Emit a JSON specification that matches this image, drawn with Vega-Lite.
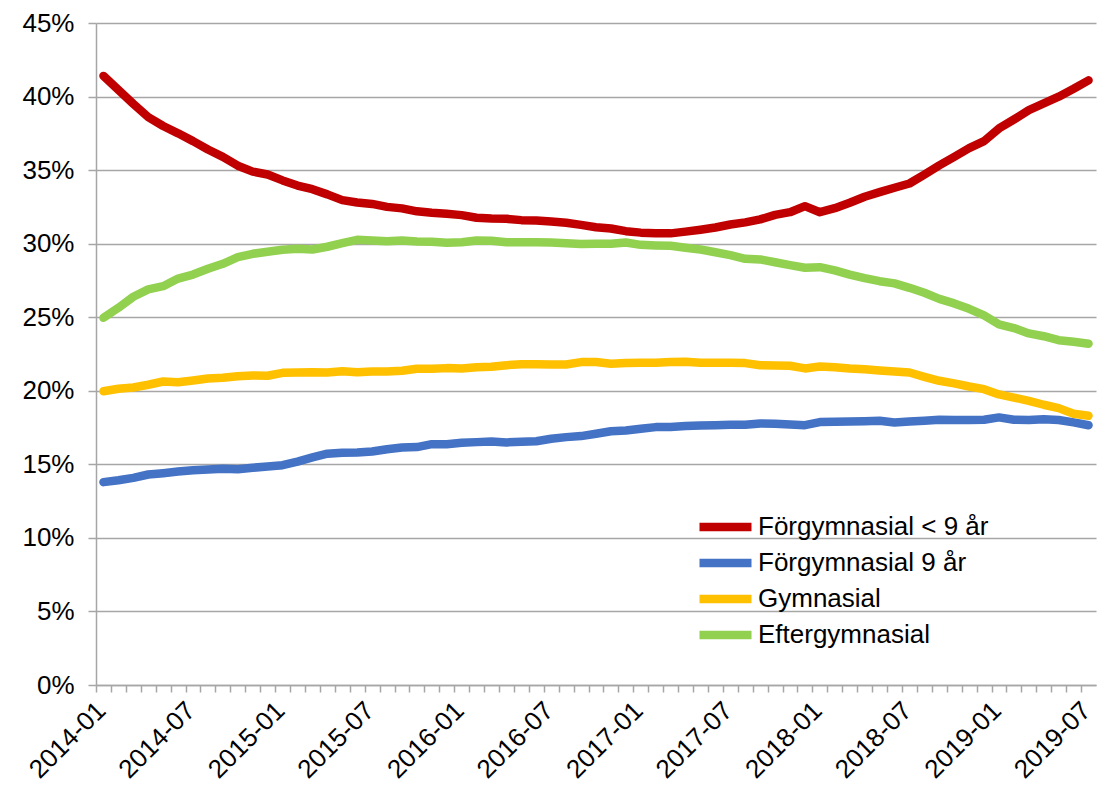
{
  "$schema": "https://vega.github.io/schema/vega-lite/v6.json",
  "width": 1000,
  "height": 662,
  "autosize": {"type": "none"},
  "padding": {"left": 96, "top": 23, "right": 1, "bottom": 102},
  "background": "white",
  "config": {
    "font": "Liberation Sans",
    "view": {"stroke": null},
    "axis": {
      "labelFont": "Liberation Sans",
      "labelFontSize": 26,
      "labelColor": "#000000",
      "domainColor": "#A6A6A6",
      "domainWidth": 1.5,
      "tickColor": "#A6A6A6",
      "tickWidth": 1.5,
      "gridColor": "#A6A6A6",
      "gridWidth": 1.5,
      "title": null
    }
  },
  "data": {"values": [
{"m":"2014-01","s":"Förgymnasial < 9 år","v":41.4},{"m":"2014-02","s":"Förgymnasial < 9 år","v":40.45},{"m":"2014-03","s":"Förgymnasial < 9 år","v":39.5},{"m":"2014-04","s":"Förgymnasial < 9 år","v":38.6},{"m":"2014-05","s":"Förgymnasial < 9 år","v":38.0},{"m":"2014-06","s":"Förgymnasial < 9 år","v":37.5},{"m":"2014-07","s":"Förgymnasial < 9 år","v":36.97},{"m":"2014-08","s":"Förgymnasial < 9 år","v":36.4},{"m":"2014-09","s":"Förgymnasial < 9 år","v":35.9},{"m":"2014-10","s":"Förgymnasial < 9 år","v":35.3},{"m":"2014-11","s":"Förgymnasial < 9 år","v":34.9},{"m":"2014-12","s":"Förgymnasial < 9 år","v":34.7},
{"m":"2015-01","s":"Förgymnasial < 9 år","v":34.3},{"m":"2015-02","s":"Förgymnasial < 9 år","v":33.95},{"m":"2015-03","s":"Förgymnasial < 9 år","v":33.7},{"m":"2015-04","s":"Förgymnasial < 9 år","v":33.35},{"m":"2015-05","s":"Förgymnasial < 9 år","v":32.96},{"m":"2015-06","s":"Förgymnasial < 9 år","v":32.8},{"m":"2015-07","s":"Förgymnasial < 9 år","v":32.7},{"m":"2015-08","s":"Förgymnasial < 9 år","v":32.5},{"m":"2015-09","s":"Förgymnasial < 9 år","v":32.4},{"m":"2015-10","s":"Förgymnasial < 9 år","v":32.2},{"m":"2015-11","s":"Förgymnasial < 9 år","v":32.1},{"m":"2015-12","s":"Förgymnasial < 9 år","v":32.03},
{"m":"2016-01","s":"Förgymnasial < 9 år","v":31.94},{"m":"2016-02","s":"Förgymnasial < 9 år","v":31.76},{"m":"2016-03","s":"Förgymnasial < 9 år","v":31.71},{"m":"2016-04","s":"Förgymnasial < 9 år","v":31.69},{"m":"2016-05","s":"Förgymnasial < 9 år","v":31.6},{"m":"2016-06","s":"Förgymnasial < 9 år","v":31.58},{"m":"2016-07","s":"Förgymnasial < 9 år","v":31.5},{"m":"2016-08","s":"Förgymnasial < 9 år","v":31.42},{"m":"2016-09","s":"Förgymnasial < 9 år","v":31.28},{"m":"2016-10","s":"Förgymnasial < 9 år","v":31.12},{"m":"2016-11","s":"Förgymnasial < 9 år","v":31.03},{"m":"2016-12","s":"Förgymnasial < 9 år","v":30.85},
{"m":"2017-01","s":"Förgymnasial < 9 år","v":30.75},{"m":"2017-02","s":"Förgymnasial < 9 år","v":30.7},{"m":"2017-03","s":"Förgymnasial < 9 år","v":30.7},{"m":"2017-04","s":"Förgymnasial < 9 år","v":30.82},{"m":"2017-05","s":"Förgymnasial < 9 år","v":30.95},{"m":"2017-06","s":"Förgymnasial < 9 år","v":31.1},{"m":"2017-07","s":"Förgymnasial < 9 år","v":31.3},{"m":"2017-08","s":"Förgymnasial < 9 år","v":31.45},{"m":"2017-09","s":"Förgymnasial < 9 år","v":31.65},{"m":"2017-10","s":"Förgymnasial < 9 år","v":31.96},{"m":"2017-11","s":"Förgymnasial < 9 år","v":32.14},{"m":"2017-12","s":"Förgymnasial < 9 år","v":32.55},
{"m":"2018-01","s":"Förgymnasial < 9 år","v":32.14},{"m":"2018-02","s":"Förgymnasial < 9 år","v":32.41},{"m":"2018-03","s":"Förgymnasial < 9 år","v":32.78},{"m":"2018-04","s":"Förgymnasial < 9 år","v":33.19},{"m":"2018-05","s":"Förgymnasial < 9 år","v":33.5},{"m":"2018-06","s":"Förgymnasial < 9 år","v":33.8},{"m":"2018-07","s":"Förgymnasial < 9 år","v":34.09},{"m":"2018-08","s":"Förgymnasial < 9 år","v":34.7},{"m":"2018-09","s":"Förgymnasial < 9 år","v":35.32},{"m":"2018-10","s":"Förgymnasial < 9 år","v":35.9},{"m":"2018-11","s":"Förgymnasial < 9 år","v":36.49},{"m":"2018-12","s":"Förgymnasial < 9 år","v":36.97},
{"m":"2019-01","s":"Förgymnasial < 9 år","v":37.83},{"m":"2019-02","s":"Förgymnasial < 9 år","v":38.44},{"m":"2019-03","s":"Förgymnasial < 9 år","v":39.08},{"m":"2019-04","s":"Förgymnasial < 9 år","v":39.53},{"m":"2019-05","s":"Förgymnasial < 9 år","v":39.99},{"m":"2019-06","s":"Förgymnasial < 9 år","v":40.53},{"m":"2019-07","s":"Förgymnasial < 9 år","v":41.1},

{"m":"2014-01","s":"Förgymnasial 9 år","v":13.79},{"m":"2014-02","s":"Förgymnasial 9 år","v":13.92},{"m":"2014-03","s":"Förgymnasial 9 år","v":14.08},{"m":"2014-04","s":"Förgymnasial 9 år","v":14.31},{"m":"2014-05","s":"Förgymnasial 9 år","v":14.4},{"m":"2014-06","s":"Förgymnasial 9 år","v":14.51},{"m":"2014-07","s":"Förgymnasial 9 år","v":14.6},{"m":"2014-08","s":"Förgymnasial 9 år","v":14.65},{"m":"2014-09","s":"Förgymnasial 9 år","v":14.7},{"m":"2014-10","s":"Förgymnasial 9 år","v":14.67},{"m":"2014-11","s":"Förgymnasial 9 år","v":14.77},{"m":"2014-12","s":"Förgymnasial 9 år","v":14.85},
{"m":"2015-01","s":"Förgymnasial 9 år","v":14.94},{"m":"2015-02","s":"Förgymnasial 9 år","v":15.19},{"m":"2015-03","s":"Förgymnasial 9 år","v":15.47},{"m":"2015-04","s":"Förgymnasial 9 år","v":15.72},{"m":"2015-05","s":"Förgymnasial 9 år","v":15.79},{"m":"2015-06","s":"Förgymnasial 9 år","v":15.81},{"m":"2015-07","s":"Förgymnasial 9 år","v":15.87},{"m":"2015-08","s":"Förgymnasial 9 år","v":16.03},{"m":"2015-09","s":"Förgymnasial 9 år","v":16.15},{"m":"2015-10","s":"Förgymnasial 9 år","v":16.17},{"m":"2015-11","s":"Förgymnasial 9 år","v":16.37},{"m":"2015-12","s":"Förgymnasial 9 år","v":16.37},
{"m":"2016-01","s":"Förgymnasial 9 år","v":16.46},{"m":"2016-02","s":"Förgymnasial 9 år","v":16.51},{"m":"2016-03","s":"Förgymnasial 9 år","v":16.55},{"m":"2016-04","s":"Förgymnasial 9 år","v":16.49},{"m":"2016-05","s":"Förgymnasial 9 år","v":16.53},{"m":"2016-06","s":"Förgymnasial 9 år","v":16.57},{"m":"2016-07","s":"Förgymnasial 9 år","v":16.74},{"m":"2016-08","s":"Förgymnasial 9 år","v":16.85},{"m":"2016-09","s":"Förgymnasial 9 år","v":16.92},{"m":"2016-10","s":"Förgymnasial 9 år","v":17.08},{"m":"2016-11","s":"Förgymnasial 9 år","v":17.25},{"m":"2016-12","s":"Förgymnasial 9 år","v":17.3},
{"m":"2017-01","s":"Förgymnasial 9 år","v":17.42},{"m":"2017-02","s":"Förgymnasial 9 år","v":17.53},{"m":"2017-03","s":"Förgymnasial 9 år","v":17.53},{"m":"2017-04","s":"Förgymnasial 9 år","v":17.6},{"m":"2017-05","s":"Förgymnasial 9 år","v":17.64},{"m":"2017-06","s":"Förgymnasial 9 år","v":17.66},{"m":"2017-07","s":"Förgymnasial 9 år","v":17.69},{"m":"2017-08","s":"Förgymnasial 9 år","v":17.69},{"m":"2017-09","s":"Förgymnasial 9 år","v":17.78},{"m":"2017-10","s":"Förgymnasial 9 år","v":17.76},{"m":"2017-11","s":"Förgymnasial 9 år","v":17.71},{"m":"2017-12","s":"Förgymnasial 9 år","v":17.66},
{"m":"2018-01","s":"Förgymnasial 9 år","v":17.87},{"m":"2018-02","s":"Förgymnasial 9 år","v":17.89},{"m":"2018-03","s":"Förgymnasial 9 år","v":17.91},{"m":"2018-04","s":"Förgymnasial 9 år","v":17.93},{"m":"2018-05","s":"Förgymnasial 9 år","v":17.96},{"m":"2018-06","s":"Förgymnasial 9 år","v":17.85},{"m":"2018-07","s":"Förgymnasial 9 år","v":17.91},{"m":"2018-08","s":"Förgymnasial 9 år","v":17.96},{"m":"2018-09","s":"Förgymnasial 9 år","v":18.03},{"m":"2018-10","s":"Förgymnasial 9 år","v":18.01},{"m":"2018-11","s":"Förgymnasial 9 år","v":18.01},{"m":"2018-12","s":"Förgymnasial 9 år","v":18.03},
{"m":"2019-01","s":"Förgymnasial 9 år","v":18.19},{"m":"2019-02","s":"Förgymnasial 9 år","v":18.03},{"m":"2019-03","s":"Förgymnasial 9 år","v":18.01},{"m":"2019-04","s":"Förgymnasial 9 år","v":18.07},{"m":"2019-05","s":"Förgymnasial 9 år","v":18.01},{"m":"2019-06","s":"Förgymnasial 9 år","v":17.85},{"m":"2019-07","s":"Förgymnasial 9 år","v":17.66},

{"m":"2014-01","s":"Gymnasial","v":19.97},{"m":"2014-02","s":"Gymnasial","v":20.14},{"m":"2014-03","s":"Gymnasial","v":20.22},{"m":"2014-04","s":"Gymnasial","v":20.41},{"m":"2014-05","s":"Gymnasial","v":20.63},{"m":"2014-06","s":"Gymnasial","v":20.58},{"m":"2014-07","s":"Gymnasial","v":20.7},{"m":"2014-08","s":"Gymnasial","v":20.84},{"m":"2014-09","s":"Gymnasial","v":20.88},{"m":"2014-10","s":"Gymnasial","v":20.99},{"m":"2014-11","s":"Gymnasial","v":21.04},{"m":"2014-12","s":"Gymnasial","v":21.02},
{"m":"2015-01","s":"Gymnasial","v":21.22},{"m":"2015-02","s":"Gymnasial","v":21.24},{"m":"2015-03","s":"Gymnasial","v":21.26},{"m":"2015-04","s":"Gymnasial","v":21.24},{"m":"2015-05","s":"Gymnasial","v":21.33},{"m":"2015-06","s":"Gymnasial","v":21.26},{"m":"2015-07","s":"Gymnasial","v":21.31},{"m":"2015-08","s":"Gymnasial","v":21.31},{"m":"2015-09","s":"Gymnasial","v":21.36},{"m":"2015-10","s":"Gymnasial","v":21.5},{"m":"2015-11","s":"Gymnasial","v":21.5},{"m":"2015-12","s":"Gymnasial","v":21.54},
{"m":"2016-01","s":"Gymnasial","v":21.52},{"m":"2016-02","s":"Gymnasial","v":21.6},{"m":"2016-03","s":"Gymnasial","v":21.63},{"m":"2016-04","s":"Gymnasial","v":21.74},{"m":"2016-05","s":"Gymnasial","v":21.81},{"m":"2016-06","s":"Gymnasial","v":21.81},{"m":"2016-07","s":"Gymnasial","v":21.79},{"m":"2016-08","s":"Gymnasial","v":21.79},{"m":"2016-09","s":"Gymnasial","v":21.95},{"m":"2016-10","s":"Gymnasial","v":21.95},{"m":"2016-11","s":"Gymnasial","v":21.84},{"m":"2016-12","s":"Gymnasial","v":21.88},
{"m":"2017-01","s":"Gymnasial","v":21.9},{"m":"2017-02","s":"Gymnasial","v":21.9},{"m":"2017-03","s":"Gymnasial","v":21.95},{"m":"2017-04","s":"Gymnasial","v":21.97},{"m":"2017-05","s":"Gymnasial","v":21.9},{"m":"2017-06","s":"Gymnasial","v":21.9},{"m":"2017-07","s":"Gymnasial","v":21.9},{"m":"2017-08","s":"Gymnasial","v":21.88},{"m":"2017-09","s":"Gymnasial","v":21.74},{"m":"2017-10","s":"Gymnasial","v":21.72},{"m":"2017-11","s":"Gymnasial","v":21.7},{"m":"2017-12","s":"Gymnasial","v":21.52},
{"m":"2018-01","s":"Gymnasial","v":21.65},{"m":"2018-02","s":"Gymnasial","v":21.6},{"m":"2018-03","s":"Gymnasial","v":21.52},{"m":"2018-04","s":"Gymnasial","v":21.47},{"m":"2018-05","s":"Gymnasial","v":21.38},{"m":"2018-06","s":"Gymnasial","v":21.31},{"m":"2018-07","s":"Gymnasial","v":21.24},{"m":"2018-08","s":"Gymnasial","v":20.95},{"m":"2018-09","s":"Gymnasial","v":20.68},{"m":"2018-10","s":"Gymnasial","v":20.5},{"m":"2018-11","s":"Gymnasial","v":20.29},{"m":"2018-12","s":"Gymnasial","v":20.11},
{"m":"2019-01","s":"Gymnasial","v":19.75},{"m":"2019-02","s":"Gymnasial","v":19.54},{"m":"2019-03","s":"Gymnasial","v":19.32},{"m":"2019-04","s":"Gymnasial","v":19.05},{"m":"2019-05","s":"Gymnasial","v":18.82},{"m":"2019-06","s":"Gymnasial","v":18.44},{"m":"2019-07","s":"Gymnasial","v":18.3},

{"m":"2014-01","s":"Eftergymnasial","v":24.96},{"m":"2014-02","s":"Eftergymnasial","v":25.64},{"m":"2014-03","s":"Eftergymnasial","v":26.39},{"m":"2014-04","s":"Eftergymnasial","v":26.89},{"m":"2014-05","s":"Eftergymnasial","v":27.11},{"m":"2014-06","s":"Eftergymnasial","v":27.63},{"m":"2014-07","s":"Eftergymnasial","v":27.9},{"m":"2014-08","s":"Eftergymnasial","v":28.29},{"m":"2014-09","s":"Eftergymnasial","v":28.63},{"m":"2014-10","s":"Eftergymnasial","v":29.08},{"m":"2014-11","s":"Eftergymnasial","v":29.31},{"m":"2014-12","s":"Eftergymnasial","v":29.45},
{"m":"2015-01","s":"Eftergymnasial","v":29.59},{"m":"2015-02","s":"Eftergymnasial","v":29.65},{"m":"2015-03","s":"Eftergymnasial","v":29.6},{"m":"2015-04","s":"Eftergymnasial","v":29.79},{"m":"2015-05","s":"Eftergymnasial","v":30.03},{"m":"2015-06","s":"Eftergymnasial","v":30.26},{"m":"2015-07","s":"Eftergymnasial","v":30.22},{"m":"2015-08","s":"Eftergymnasial","v":30.17},{"m":"2015-09","s":"Eftergymnasial","v":30.22},{"m":"2015-10","s":"Eftergymnasial","v":30.15},{"m":"2015-11","s":"Eftergymnasial","v":30.13},{"m":"2015-12","s":"Eftergymnasial","v":30.06},
{"m":"2016-01","s":"Eftergymnasial","v":30.1},{"m":"2016-02","s":"Eftergymnasial","v":30.22},{"m":"2016-03","s":"Eftergymnasial","v":30.2},{"m":"2016-04","s":"Eftergymnasial","v":30.1},{"m":"2016-05","s":"Eftergymnasial","v":30.1},{"m":"2016-06","s":"Eftergymnasial","v":30.1},{"m":"2016-07","s":"Eftergymnasial","v":30.08},{"m":"2016-08","s":"Eftergymnasial","v":30.03},{"m":"2016-09","s":"Eftergymnasial","v":29.97},{"m":"2016-10","s":"Eftergymnasial","v":29.99},{"m":"2016-11","s":"Eftergymnasial","v":29.99},{"m":"2016-12","s":"Eftergymnasial","v":30.08},
{"m":"2017-01","s":"Eftergymnasial","v":29.92},{"m":"2017-02","s":"Eftergymnasial","v":29.88},{"m":"2017-03","s":"Eftergymnasial","v":29.86},{"m":"2017-04","s":"Eftergymnasial","v":29.72},{"m":"2017-05","s":"Eftergymnasial","v":29.6},{"m":"2017-06","s":"Eftergymnasial","v":29.42},{"m":"2017-07","s":"Eftergymnasial","v":29.22},{"m":"2017-08","s":"Eftergymnasial","v":28.97},{"m":"2017-09","s":"Eftergymnasial","v":28.93},{"m":"2017-10","s":"Eftergymnasial","v":28.74},{"m":"2017-11","s":"Eftergymnasial","v":28.54},{"m":"2017-12","s":"Eftergymnasial","v":28.36},
{"m":"2018-01","s":"Eftergymnasial","v":28.4},{"m":"2018-02","s":"Eftergymnasial","v":28.18},{"m":"2018-03","s":"Eftergymnasial","v":27.9},{"m":"2018-04","s":"Eftergymnasial","v":27.66},{"m":"2018-05","s":"Eftergymnasial","v":27.45},{"m":"2018-06","s":"Eftergymnasial","v":27.3},{"m":"2018-07","s":"Eftergymnasial","v":27.0},{"m":"2018-08","s":"Eftergymnasial","v":26.66},{"m":"2018-09","s":"Eftergymnasial","v":26.25},{"m":"2018-10","s":"Eftergymnasial","v":25.94},{"m":"2018-11","s":"Eftergymnasial","v":25.57},{"m":"2018-12","s":"Eftergymnasial","v":25.12},
{"m":"2019-01","s":"Eftergymnasial","v":24.51},{"m":"2019-02","s":"Eftergymnasial","v":24.26},{"m":"2019-03","s":"Eftergymnasial","v":23.9},{"m":"2019-04","s":"Eftergymnasial","v":23.71},{"m":"2019-05","s":"Eftergymnasial","v":23.44},{"m":"2019-06","s":"Eftergymnasial","v":23.33},{"m":"2019-07","s":"Eftergymnasial","v":23.2}
  ]},
  "mark": {"type": "line", "strokeWidth": 8.5, "strokeCap": "round", "strokeJoin": "round"},
  "encoding": {
    "x": {
      "field": "m",
      "type": "ordinal",
      "scale": {"type": "point", "padding": 0.5},
      "axis": {
        "orient": "bottom",
        "tickSize": 7,
        "tickOffset": -7.46,
        "labelOffset": 5,
        "labelAngle": -45,
        "labelAlign": "right",
        "labelBaseline": "middle",
        "labelPadding": 14,
        "labelOverlap": false,
        "labelExpr": "(slice(datum.value,5)=='01'||slice(datum.value,5)=='07') ? datum.value : ''",
        "grid": false
      }
    },
    "y": {
      "field": "v",
      "type": "quantitative",
      "scale": {"domain": [0, 45], "nice": false},
      "axis": {
        "values": [0, 5, 10, 15, 20, 25, 30, 35, 40, 45],
        "labelExpr": "datum.value + '%'",
        "tickSize": 8,
        "labelPadding": 14,
        "grid": true
      }
    },
    "color": {
      "field": "s",
      "type": "nominal",
      "scale": {
        "domain": ["Förgymnasial < 9 år", "Förgymnasial 9 år", "Gymnasial", "Eftergymnasial"],
        "range": ["#C00000", "#4472C4", "#FFC000", "#92D050"]
      },
      "legend": {
        "title": null,
        "orient": "none",
        "legendX": 599,
        "legendY": 492,
        "symbolType": "stroke",
        "symbolSize": 2704,
        "symbolStrokeWidth": 8.5,
        "labelFontSize": 26,
        "labelFont": "Liberation Sans",
        "labelColor": "#000000",
        "labelOffset": 2,
        "clipHeight": 24,
        "rowPadding": 10,
        "labelLimit": 400
      }
    }
  }
}
